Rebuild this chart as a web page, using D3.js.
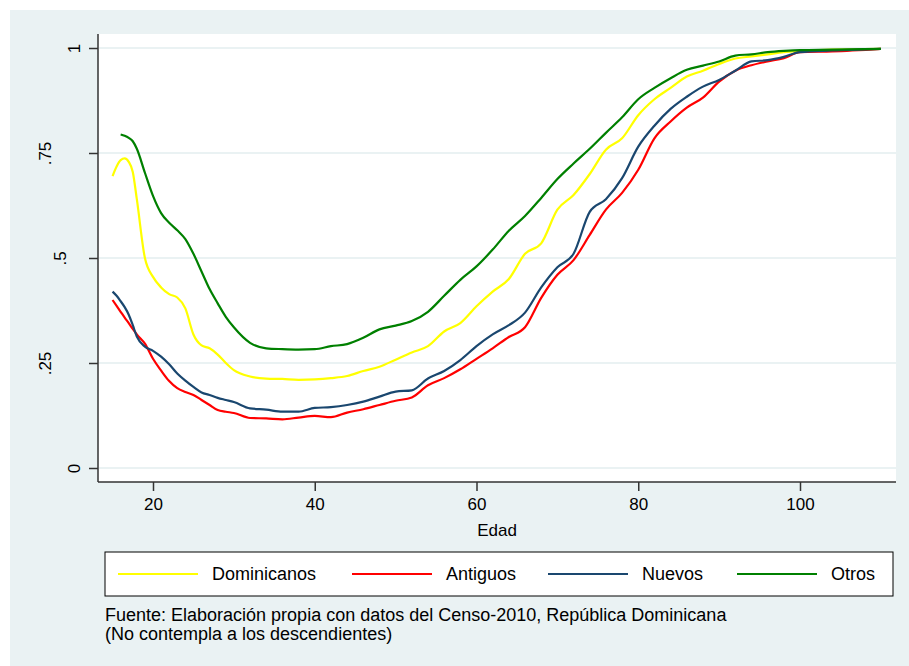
<!DOCTYPE html>
<html>
<head>
<meta charset="utf-8">
<script src="https://cdn.jsdelivr.net/npm/d3@7"></script>
<style>
  body { margin: 0; background: #fff; }
  text { font-family: Arial, "Liberation Sans", sans-serif; fill: #000; }
</style>
</head>
<body>
<script>
// edades (eje x) y proporciones por grupo
var ages = [15,15.5,16,16.5,17,17.5,18,19,20,21,22,23,24,25,26,27,28,29,30,32,34,36,38,40,42,44,46,48,50,
  52,54,56,58,60,62,64,66,68,70,72,74,76,78,80,82,84,86,88,90,92,94,96,98,100,104,110];

var dominicanos = [0.695,0.718,0.733,0.737,0.729,0.705,0.640,0.500,0.455,0.430,0.414,0.406,0.380,0.318,0.292,0.285,0.270,0.250,0.233,
  0.218,0.213,0.212,0.210,0.211,0.214,0.219,0.231,0.241,0.258,0.275,0.290,0.325,0.345,0.385,0.420,0.450,0.510,
  0.535,0.615,0.650,0.700,0.758,0.785,0.840,0.878,0.905,0.932,0.946,0.962,0.975,0.980,0.985,0.990,0.993,0.996,0.998];

var antiguos = [0.400,0.386,0.372,0.358,0.345,0.331,0.318,0.296,0.260,0.232,0.207,0.190,0.181,0.174,0.162,0.150,0.138,0.134,0.131,
  0.119,0.118,0.116,0.120,0.124,0.121,0.132,0.140,0.150,0.160,0.168,0.197,0.214,0.235,0.260,0.285,0.312,0.335,
  0.405,0.460,0.495,0.555,0.615,0.655,0.710,0.785,0.825,0.858,0.882,0.920,0.946,0.959,0.968,0.976,0.990,0.992,0.998];

var nuevos = [0.420,0.410,0.397,0.383,0.365,0.340,0.313,0.289,0.279,0.265,0.247,0.225,0.208,0.193,0.180,0.174,0.167,0.162,0.157,
  0.142,0.139,0.134,0.134,0.143,0.145,0.150,0.158,0.170,0.182,0.185,0.213,0.231,0.257,0.290,0.318,0.340,0.370,
  0.430,0.478,0.510,0.610,0.640,0.690,0.765,0.815,0.855,0.884,0.908,0.924,0.946,0.968,0.971,0.979,0.990,0.994,0.998];

var otros = [null,null,0.794,0.791,0.786,0.778,0.760,0.703,0.648,0.607,0.584,0.566,0.545,0.510,0.468,0.426,0.392,0.360,0.335,
  0.298,0.285,0.283,0.282,0.283,0.290,0.295,0.310,0.330,0.339,0.350,0.372,0.410,0.448,0.480,0.520,0.565,0.600,
  0.643,0.688,0.725,0.760,0.798,0.835,0.878,0.905,0.928,0.948,0.958,0.968,0.982,0.985,0.990,0.993,0.995,0.996,0.998];

var seriesNames = ["Dominicanos", "Antiguos", "Nuevos", "Otros"];
var seriesColors = ["#ffff00", "#ff0000", "#1a476f", "#008000"];
var seriesValues = [dominicanos, antiguos, nuevos, otros];

var xTicks = [20, 40, 60, 80, 100];
var yTicks = [0, 0.25, 0.5, 0.75, 1];
var yTickLabels = ["0", ".25", ".5", ".75", "1"];

var W = 909, H = 666;
var svg = d3.select("body").append("svg")
  .attr("width", W)
  .attr("height", H);

// fondo del grafico
svg.append("rect").attr("x", 10).attr("y", 10).attr("width", W - 10).attr("height", H - 10)
  .attr("fill", "#eaf2f3");

var plot = {left: 98, right: 896, top: 34, bottom: 482};
svg.append("rect").attr("x", plot.left).attr("y", plot.top)
  .attr("width", plot.right - plot.left).attr("height", plot.bottom - plot.top)
  .attr("fill", "#fff");

var x = d3.scaleLinear().domain([20, 100]).range([153, 800]);
var y = d3.scaleLinear().domain([0, 1]).range([468, 48]);

// lineas de cuadricula
svg.selectAll(".grid").data(yTicks).enter().append("line")
  .attr("x1", plot.left + 1).attr("x2", plot.right)
  .attr("y1", d => y(d)).attr("y2", d => y(d))
  .attr("stroke", "#eaf2f3").attr("stroke-width", 2);

// eje x
var xAxis = svg.append("g").attr("transform", "translate(0," + plot.bottom + ")")
  .call(d3.axisBottom(x).tickValues(xTicks).tickSize(9).tickPadding(7).tickSizeOuter(0));
xAxis.select(".domain").attr("d", "M" + plot.left + ",0H" + plot.right)
  .attr("stroke", "#333").attr("stroke-width", 1.5);
xAxis.selectAll(".tick line").attr("stroke", "#333").attr("stroke-width", 1.5);
xAxis.selectAll(".tick text").attr("font-size", 17).attr("font-family", "Arial, 'Liberation Sans', sans-serif").attr("fill", "#000");

// eje y
var yAxis = svg.append("g").attr("transform", "translate(" + plot.left + ",0)")
  .call(d3.axisLeft(y).tickValues(yTicks).tickSize(9).tickSizeOuter(0).tickFormat((d, i) => yTickLabels[i]));
yAxis.select(".domain").attr("d", "M0," + plot.top + "V" + plot.bottom)
  .attr("stroke", "#333").attr("stroke-width", 1.5);
yAxis.selectAll(".tick line").attr("stroke", "#333").attr("stroke-width", 1.5);
yAxis.selectAll(".tick text")
  .attr("font-size", 17).attr("font-family", "Arial, 'Liberation Sans', sans-serif").attr("fill", "#000")
  .attr("text-anchor", "middle").attr("dy", null)
  .attr("x", null)
  .attr("transform", (d, i) => {
    var cx = 88.5 - 14.5 * yTickLabels[i].length - plot.left;
    return "translate(" + (cx + 6) + ",0) rotate(-90)";
  });

svg.append("text").attr("x", 497).attr("y", 536).attr("text-anchor", "middle")
  .attr("font-size", 17).text("Edad");

// curvas
var line = d3.line()
  .defined(d => d[1] != null)
  .x(d => x(d[0]))
  .y(d => y(d[1]))
  .curve(d3.curveMonotoneX);

seriesValues.forEach(function(vals, k) {
  svg.append("path")
    .datum(ages.map((a, i) => [a, vals[i]]))
    .attr("d", line)
    .attr("fill", "none")
    .attr("stroke", seriesColors[k])
    .attr("stroke-width", 2.2)
    .attr("stroke-linejoin", "round");
});

// leyenda
svg.append("rect").attr("x", 105).attr("y", 552).attr("width", 788).attr("height", 44)
  .attr("fill", "#fff").attr("stroke", "#000").attr("stroke-width", 1);
var legX = [118, 352, 548, 737];
seriesNames.forEach(function(name, k) {
  svg.append("line").attr("x1", legX[k]).attr("x2", legX[k] + 80)
    .attr("y1", 574).attr("y2", 574)
    .attr("stroke", seriesColors[k]).attr("stroke-width", 2.2);
  svg.append("text").attr("x", legX[k] + 94).attr("y", 580)
    .attr("font-size", 18).text(name);
});

svg.append("text").attr("x", 105).attr("y", 621).attr("font-size", 18)
  .text("Fuente: Elaboración propia con datos del Censo-2010, República Dominicana");
svg.append("text").attr("x", 105).attr("y", 640).attr("font-size", 18)
  .text("(No contempla a los descendientes)");
</script>
</body>
</html>
